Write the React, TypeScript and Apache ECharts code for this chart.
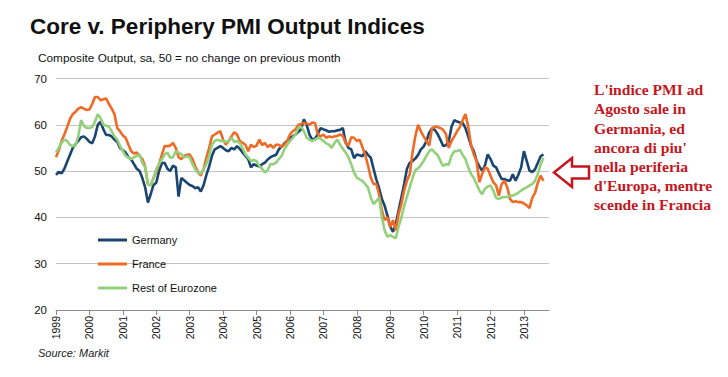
import React, { useEffect, useRef } from "react";
import * as echarts from "echarts";

// Monthly composite output PMI, Jan 1999 - Aug 2013
const germany = [
  49.2, 49.8, 49.5, 50.5, 52, 53.5, 55, 55.8, 56.5, 57.3, 57.5, 57,
  56.3, 56, 57.5, 60, 60.7, 59, 57.8, 57.8, 57.5, 56.8, 56.3, 55,
  54.5, 54, 53, 52.5, 51.5, 50.5, 50, 48.5, 46.5, 43.2, 45, 47,
  47.5, 50, 51.7, 51.8, 50.5, 50, 51.2, 50.8, 44.5, 48.5, 48, 47.5,
  47, 46.8, 46.3, 46.5, 45.6, 47, 49.2, 51, 53.3, 54.7, 55, 55.4,
  55, 54.5, 54.3, 55, 54.7, 55.4, 54.8, 54, 53.3, 52.6, 50.8, 51.5,
  51.2, 51, 51.5, 51.8, 52.5, 53, 53.3, 53.5, 54.7, 55.3, 56, 56.5,
  57.2, 57.5, 57.9, 58.5, 59, 61.2, 60, 57.9, 56.8, 57, 58, 59.3,
  59, 58.8, 58.5, 58.6, 58.6, 58.8, 58.9, 59.3, 56.2, 55, 54.7, 52.8,
  53.6, 53.4, 53.2, 54.3, 53.5, 52.9, 50.5, 48.2, 46.3, 44, 42.5, 40.4,
  38, 36.9, 38.5, 41.5, 44.3, 47.2, 50.5, 51.8, 52.2, 52.7, 53.5, 54.7,
  55.3, 56.5, 58.3, 59.2, 58.9, 58, 56.8, 55.4, 55.6, 56.4, 59.6, 61,
  60.7, 60.5, 60.4, 59.3, 57.5, 55.5, 54.3, 52.2, 51, 50.1, 51.2, 53.6,
  52.6, 51.2, 50.8, 49.5, 48.3, 48.3, 48, 47.9, 49.3, 47.9, 49.2, 50.8,
  54.3, 52.2, 50.1, 49.8, 50.4, 51.8, 53.2, 53.6,
];

const france = [
  53, 54.5, 56.5, 57.9, 59.5, 61.2, 62.3, 62.8, 63.5, 63.8, 63.5, 63.2,
  63.3, 64.5, 66, 66, 65.3, 65.5, 65.7, 64.5, 63.5, 62.3, 59.3, 58.6,
  57.7, 57.2, 55.7, 54.3, 53.8, 54, 53.3, 52.6, 51, 47.2, 46.9, 48.5,
  49.8, 51.5, 53.5, 55.4, 55.4, 55.5, 56.1, 55, 53, 52.6, 53.3, 53.5,
  53.6, 52.6, 51, 49.8, 49, 50.5, 52.9, 55, 57.5, 57.9, 58.3, 58.6,
  56.8, 55.7, 56.5, 57.5, 58.4, 57.9, 56.5, 56.1, 55.7, 54.3, 55.7, 55.2,
  55.5, 56.8, 55.6, 56.1, 55.2, 55.7, 55, 55.7, 55.7, 55.2, 55.8, 56.5,
  57.9, 58.6, 59, 60, 60.2, 60.4, 60.3, 60, 60.5, 60.4, 57.9, 57.5,
  57.9, 57.2, 57.5, 57.3, 57.5, 57.6, 57.9, 57.6, 56, 55.5, 57.3, 57.2,
  56.5, 56.8, 55.2, 53.5, 51.3, 48.6, 47.2, 47.2, 45, 41.5, 39.4, 40,
  37.9, 39.4, 37.2, 40.7, 42.9, 45.8, 47.9, 49.3, 54, 57.5, 60, 58.6,
  57.5, 56.5, 55.5, 59.3, 59.6, 59.5, 59.3, 58.9, 58, 55, 56.5, 57.5,
  58.6, 59.5, 61, 62.3, 59.6, 55.7, 53.6, 52.2, 47.6, 49.4, 50.8, 50.5,
  49, 47.6, 46.9, 44.7, 47.2, 47.9, 46.5, 44, 43.3, 43.5, 43.3, 43.3,
  43, 42.6, 42, 44.2, 45.3, 47.5, 49, 47.9,
];

const restOfEurozone = [
  54, 55, 56.1, 56.8, 56.5, 55.7, 55.4, 55.5, 57.5, 61, 59.8, 59.3,
  59.3, 59.5, 60.7, 62.3, 61.4, 60, 59.8, 59.6, 58.6, 57.5, 56.8, 55.4,
  54.3, 53.3, 52.9, 52.6, 53, 53.3, 53.6, 51.8, 50.8, 47.2, 46.9, 48.5,
  50.4, 51.5, 52.5, 53.6, 54, 52.9, 53, 54.3, 54, 53.6, 53, 53.2,
  53, 51.5, 50.4, 49.6, 49.4, 50.4, 51.5, 53.3, 55.7, 56.5, 56.8, 56.5,
  56.5, 56.3, 56.5, 57.2, 56.3, 56.5, 56, 55, 53.6, 52.9, 52.2, 52.4,
  52.2, 51.1, 50.5, 49.7, 50.2, 51.5, 51.5, 51.8, 52.6, 53.3, 54.7, 55.7,
  56.5, 57.2, 57.9, 59.3, 59.6, 58.6, 57.2, 56.8, 56.5, 56.8, 57.2, 57,
  56.5, 56, 55.7, 55, 56.1, 56.8, 55.7, 54.8, 54, 53, 51.5, 49.7,
  48.6, 48.2, 47.9, 47.2, 46.5, 44.3, 42.9, 43.5, 44.3, 40, 37.2, 35.8,
  36.2, 35.8, 35.5, 38, 40, 42.5, 44.5, 46.5, 48.5, 50.2, 50.6, 51.3,
  52.2, 53.3, 54.3, 54.7, 54, 53.5, 52.2, 51.1, 51.5, 51.4, 53.3, 54.3,
  54.3, 54.6, 53.5, 52.6, 50.8, 49.4, 48.5, 47.2, 45.8, 45, 46.2, 46.7,
  46.9, 45.8, 44.2, 44, 44.3, 44.4, 44.4, 44.7, 44.7, 45, 45.3, 45.8,
  46.2, 46.5, 46.9, 47.2, 47.9, 49.4, 51.5, 52.9,
];

const seriesNames = ["Germany", "France", "Rest of Eurozone"];
const seriesColors = ["#1b4571", "#ee6a25", "#93d07c"];

const firstYear = 1999;
const monthCount = 178; // axis runs to Oct 2013
const months: string[] = [];
for (let i = 0; i < monthCount; i++) {
  const y = firstYear + Math.floor(i / 12);
  const m = (i % 12) + 1;
  months.push(`${y}-${m < 10 ? "0" + m : m}`);
}

const titleText = "Core v. Periphery PMI Output Indices";
const subtitleText = "Composite Output, sa, 50 = no change on previous month";
const sourceText = "Source: Markit";
const noteLines = [
  "L'indice PMI ad",
  "Agosto sale in",
  "Germania, ed",
  "ancora di piu'",
  "nella periferia",
  "d'Europa, mentre",
  "scende in Francia",
];

export default function App() {
  const ref = useRef<HTMLDivElement>(null);
  useEffect(() => {
    if (!ref.current) return;
    const chart = echarts.init(ref.current, null, { renderer: "svg" });
    const yearTick = (i: number) => i % 12 === 0;
    const data = [germany, france, restOfEurozone];
    chart.setOption({
      animation: false,
      backgroundColor: "#ffffff",
      textStyle: { fontFamily: "Liberation Sans, Arial, sans-serif" },
      title: [
        {
          text: titleText,
          left: 30,
          top: 15,
          padding: 0,
          textStyle: { fontSize: 22.5, fontWeight: "bold", color: "#111", fontFamily: "Liberation Sans" },
        },
        {
          text: subtitleText,
          left: 38,
          top: 52,
          padding: 0,
          textStyle: { fontSize: 11.8, fontWeight: "normal", color: "#111", fontFamily: "Liberation Sans" },
        },
        {
          text: sourceText,
          left: 38,
          top: 347,
          padding: 0,
          textStyle: { fontSize: 11, fontWeight: "normal", fontStyle: "italic", color: "#222", fontFamily: "Liberation Sans" },
        },
      ],
      legend: {
        orient: "vertical",
        left: 98,
        top: 233,
        padding: 0,
        itemWidth: 29,
        itemHeight: 3,
        itemGap: 10,
        icon: "rect",
        data: seriesNames,
        textStyle: { fontSize: 11, color: "#111", lineHeight: 14, fontFamily: "Liberation Sans" },
      },
      grid: { left: 56, right: 179, top: 78.5, bottom: 67 },
      xAxis: {
        type: "category",
        data: months,
        boundaryGap: false,
        axisLine: { lineStyle: { color: "#8a8a8a", width: 1 } },
        axisTick: { interval: yearTick, length: 5, lineStyle: { color: "#8a8a8a" } },
        axisLabel: {
          interval: yearTick,
          rotate: 90,
          margin: 6,
          fontSize: 10.5,
          color: "#111",
          fontFamily: "Liberation Sans",
          formatter: (v: string) => v.slice(0, 4),
        },
        splitLine: { show: false },
      },
      yAxis: {
        type: "value",
        min: 20,
        max: 70,
        interval: 10,
        axisLine: { show: false },
        axisTick: { show: false },
        axisLabel: { fontSize: 11.5, color: "#111", margin: 9, fontFamily: "Liberation Sans" },
        splitLine: { lineStyle: { color: "#c3c3c3", width: 1 } },
      },
      series: seriesNames.map((name, i) => ({
        name,
        type: "line",
        data: data[i],
        showSymbol: false,
        symbol: "none",
        smooth: false,
        color: seriesColors[i],
        lineStyle: { color: seriesColors[i], width: 2.6 },
        z: 2 + i,
      })),
      graphic: [
        {
          type: "polygon",
          shape: {
            points: [
              [554, 172.5],
              [572, 158],
              [572, 166.5],
              [589, 166.5],
              [589, 178.5],
              [572, 178.5],
              [572, 187],
            ],
          },
          style: { fill: "#ffffff", stroke: "#c4161c", lineWidth: 2.5 },
        },
        {
          type: "text",
          left: 594,
          top: 80,
          style: {
            text: noteLines.join("\n"),
            font: 'bold 15.6px "Liberation Serif", "Times New Roman", serif',
            fill: "#c4161c",
            lineHeight: 19.2,
          },
        },
      ],
    });
    return () => chart.dispose();
  }, []);
  return <div ref={ref} style={{ width: 728, height: 377, position: "absolute", left: 0, top: 0 }} />;
}
